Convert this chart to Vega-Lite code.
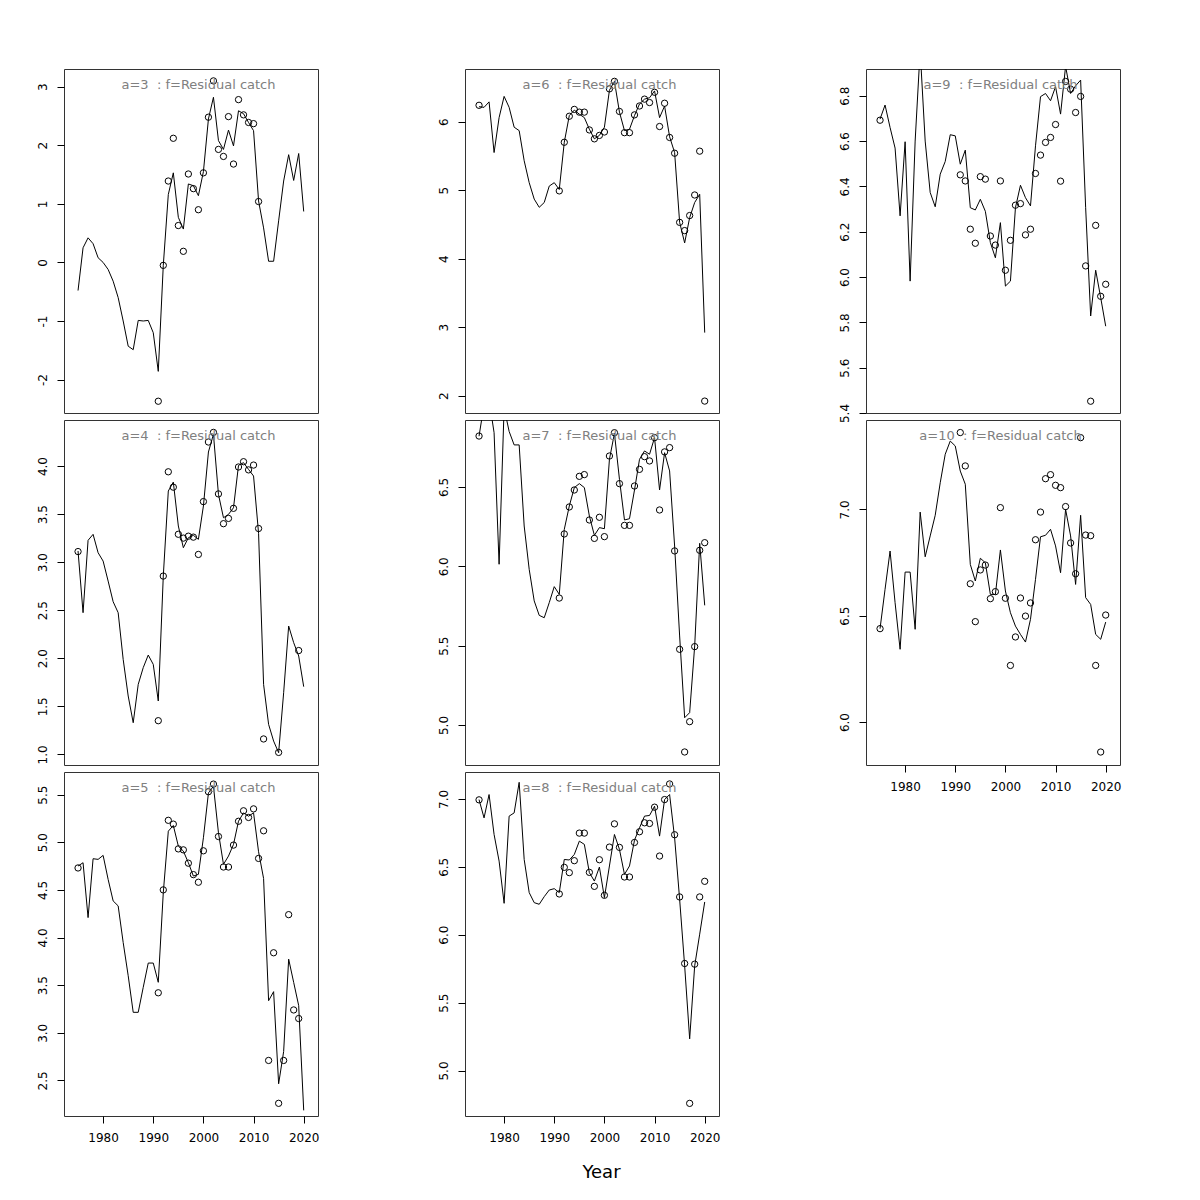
{
"$schema":"https://vega.github.io/schema/vega-lite/v6.json",
"padding":{"left":35,"top":68,"right":10,"bottom":10},
"background":"white",
"title":{"text":"Year","orient":"bottom","fontSize":18,"color":"black","offset":34,"dx":23,"baseline":"alphabetic","frame":"bounds","anchor":"middle"},
"datasets":{
"fit":[
{"a":3,"year":1975,"value":-0.48},{"a":3,"year":1976,"value":0.25},{"a":3,"year":1977,"value":0.42},{"a":3,"year":1978,"value":0.32},{"a":3,"year":1979,"value":0.08},{"a":3,"year":1980,"value":0.0},{"a":3,"year":1981,"value":-0.12},{"a":3,"year":1982,"value":-0.32},{"a":3,"year":1983,"value":-0.6},{"a":3,"year":1984,"value":-1.0},{"a":3,"year":1985,"value":-1.43},{"a":3,"year":1986,"value":-1.49},{"a":3,"year":1987,"value":-0.99},{"a":3,"year":1988,"value":-1.0},{"a":3,"year":1989,"value":-0.99},{"a":3,"year":1990,"value":-1.2},{"a":3,"year":1991,"value":-1.86},{"a":3,"year":1992,"value":-0.05},{"a":3,"year":1993,"value":1.16},{"a":3,"year":1994,"value":1.53},{"a":3,"year":1995,"value":0.77},{"a":3,"year":1996,"value":0.57},{"a":3,"year":1997,"value":1.34},{"a":3,"year":1998,"value":1.31},{"a":3,"year":1999,"value":1.14},{"a":3,"year":2000,"value":1.55},{"a":3,"year":2001,"value":2.45},{"a":3,"year":2002,"value":2.82},{"a":3,"year":2003,"value":2.08},{"a":3,"year":2004,"value":1.93},{"a":3,"year":2005,"value":2.26},{"a":3,"year":2006,"value":1.99},{"a":3,"year":2007,"value":2.59},{"a":3,"year":2008,"value":2.54},{"a":3,"year":2009,"value":2.39},{"a":3,"year":2010,"value":2.25},{"a":3,"year":2011,"value":1.05},{"a":3,"year":2012,"value":0.59},{"a":3,"year":2013,"value":0.02},{"a":3,"year":2014,"value":0.02},{"a":3,"year":2015,"value":0.71},{"a":3,"year":2016,"value":1.39},{"a":3,"year":2017,"value":1.84},{"a":3,"year":2018,"value":1.4},{"a":3,"year":2019,"value":1.86},{"a":3,"year":2020,"value":0.87},
{"a":4,"year":1975,"value":3.116},{"a":4,"year":1976,"value":2.474},{"a":4,"year":1977,"value":3.227},{"a":4,"year":1978,"value":3.289},{"a":4,"year":1979,"value":3.098},{"a":4,"year":1980,"value":3.011},{"a":4,"year":1981,"value":2.803},{"a":4,"year":1982,"value":2.588},{"a":4,"year":1983,"value":2.474},{"a":4,"year":1984,"value":1.988},{"a":4,"year":1985,"value":1.607},{"a":4,"year":1986,"value":1.329},{"a":4,"year":1987,"value":1.728},{"a":4,"year":1988,"value":1.902},{"a":4,"year":1989,"value":2.033},{"a":4,"year":1990,"value":1.936},{"a":4,"year":1991,"value":1.555},{"a":4,"year":1992,"value":2.855},{"a":4,"year":1993,"value":3.74},{"a":4,"year":1994,"value":3.833},{"a":4,"year":1995,"value":3.376},{"a":4,"year":1996,"value":3.15},{"a":4,"year":1997,"value":3.254},{"a":4,"year":1998,"value":3.279},{"a":4,"year":1999,"value":3.237},{"a":4,"year":2000,"value":3.584},{"a":4,"year":2001,"value":4.146},{"a":4,"year":2002,"value":4.33},{"a":4,"year":2003,"value":3.705},{"a":4,"year":2004,"value":3.462},{"a":4,"year":2005,"value":3.497},{"a":4,"year":2006,"value":3.566},{"a":4,"year":2007,"value":4.007},{"a":4,"year":2008,"value":4.035},{"a":4,"year":2009,"value":3.965},{"a":4,"year":2010,"value":3.896},{"a":4,"year":2011,"value":3.3},{"a":4,"year":2012,"value":1.728},{"a":4,"year":2013,"value":1.312},{"a":4,"year":2014,"value":1.138},{"a":4,"year":2015,"value":1.017},{"a":4,"year":2016,"value":1.641},{"a":4,"year":2017,"value":2.335},{"a":4,"year":2018,"value":2.162},{"a":4,"year":2019,"value":2.023},{"a":4,"year":2020,"value":1.704},
{"a":5,"year":1975,"value":4.75},{"a":5,"year":1976,"value":4.785},{"a":5,"year":1977,"value":4.209},{"a":5,"year":1978,"value":4.827},{"a":5,"year":1979,"value":4.82},{"a":5,"year":1980,"value":4.862},{"a":5,"year":1981,"value":4.61},{"a":5,"year":1982,"value":4.384},{"a":5,"year":1983,"value":4.332},{"a":5,"year":1984,"value":3.948},{"a":5,"year":1985,"value":3.599},{"a":5,"year":1986,"value":3.215},{"a":5,"year":1987,"value":3.215},{"a":5,"year":1988,"value":3.477},{"a":5,"year":1989,"value":3.732},{"a":5,"year":1990,"value":3.732},{"a":5,"year":1991,"value":3.53},{"a":5,"year":1992,"value":4.471},{"a":5,"year":1993,"value":5.116},{"a":5,"year":1994,"value":5.176},{"a":5,"year":1995,"value":4.959},{"a":5,"year":1996,"value":4.907},{"a":5,"year":1997,"value":4.785},{"a":5,"year":1998,"value":4.645},{"a":5,"year":1999,"value":4.663},{"a":5,"year":2000,"value":5.047},{"a":5,"year":2001,"value":5.517},{"a":5,"year":2002,"value":5.587},{"a":5,"year":2003,"value":5.099},{"a":5,"year":2004,"value":4.768},{"a":5,"year":2005,"value":4.855},{"a":5,"year":2006,"value":4.977},{"a":5,"year":2007,"value":5.221},{"a":5,"year":2008,"value":5.308},{"a":5,"year":2009,"value":5.273},{"a":5,"year":2010,"value":5.308},{"a":5,"year":2011,"value":4.9},{"a":5,"year":2012,"value":4.62},{"a":5,"year":2013,"value":3.337},{"a":5,"year":2014,"value":3.432},{"a":5,"year":2015,"value":2.465},{"a":5,"year":2016,"value":2.804},{"a":5,"year":2017,"value":3.773},{"a":5,"year":2018,"value":3.529},{"a":5,"year":2019,"value":3.285},{"a":5,"year":2020,"value":2.186},
{"a":6,"year":1975,"value":6.22},{"a":6,"year":1976,"value":6.21},{"a":6,"year":1977,"value":6.29},{"a":6,"year":1978,"value":5.55},{"a":6,"year":1979,"value":6.06},{"a":6,"year":1980,"value":6.37},{"a":6,"year":1981,"value":6.21},{"a":6,"year":1982,"value":5.92},{"a":6,"year":1983,"value":5.87},{"a":6,"year":1984,"value":5.43},{"a":6,"year":1985,"value":5.11},{"a":6,"year":1986,"value":4.87},{"a":6,"year":1987,"value":4.75},{"a":6,"year":1988,"value":4.82},{"a":6,"year":1989,"value":5.06},{"a":6,"year":1990,"value":5.11},{"a":6,"year":1991,"value":5.01},{"a":6,"year":1992,"value":5.7},{"a":6,"year":1993,"value":6.09},{"a":6,"year":1994,"value":6.17},{"a":6,"year":1995,"value":6.11},{"a":6,"year":1996,"value":6.06},{"a":6,"year":1997,"value":5.89},{"a":6,"year":1998,"value":5.75},{"a":6,"year":1999,"value":5.8},{"a":6,"year":2000,"value":5.92},{"a":6,"year":2001,"value":6.46},{"a":6,"year":2002,"value":6.59},{"a":6,"year":2003,"value":6.14},{"a":6,"year":2004,"value":5.87},{"a":6,"year":2005,"value":5.89},{"a":6,"year":2006,"value":6.09},{"a":6,"year":2007,"value":6.26},{"a":6,"year":2008,"value":6.33},{"a":6,"year":2009,"value":6.35},{"a":6,"year":2010,"value":6.45},{"a":6,"year":2011,"value":6.06},{"a":6,"year":2012,"value":6.23},{"a":6,"year":2013,"value":5.78},{"a":6,"year":2014,"value":5.55},{"a":6,"year":2015,"value":4.53},{"a":6,"year":2016,"value":4.23},{"a":6,"year":2017,"value":4.6},{"a":6,"year":2018,"value":4.82},{"a":6,"year":2019,"value":4.94},{"a":6,"year":2020,"value":2.92},
{"a":7,"year":1975,"value":6.82},{"a":7,"year":1976,"value":7.02},{"a":7,"year":1977,"value":7.05},{"a":7,"year":1978,"value":6.842},{"a":7,"year":1979,"value":6.013},{"a":7,"year":1980,"value":7.0},{"a":7,"year":1981,"value":6.85},{"a":7,"year":1982,"value":6.765},{"a":7,"year":1983,"value":6.765},{"a":7,"year":1984,"value":6.254},{"a":7,"year":1985,"value":5.981},{"a":7,"year":1986,"value":5.782},{"a":7,"year":1987,"value":5.691},{"a":7,"year":1988,"value":5.676},{"a":7,"year":1989,"value":5.771},{"a":7,"year":1990,"value":5.872},{"a":7,"year":1991,"value":5.823},{"a":7,"year":1992,"value":6.233},{"a":7,"year":1993,"value":6.38},{"a":7,"year":1994,"value":6.496},{"a":7,"year":1995,"value":6.521},{"a":7,"year":1996,"value":6.496},{"a":7,"year":1997,"value":6.317},{"a":7,"year":1998,"value":6.195},{"a":7,"year":1999,"value":6.244},{"a":7,"year":2000,"value":6.237},{"a":7,"year":2001,"value":6.674},{"a":7,"year":2002,"value":6.838},{"a":7,"year":2003,"value":6.548},{"a":7,"year":2004,"value":6.292},{"a":7,"year":2005,"value":6.3},{"a":7,"year":2006,"value":6.481},{"a":7,"year":2007,"value":6.674},{"a":7,"year":2008,"value":6.727},{"a":7,"year":2009,"value":6.706},{"a":7,"year":2010,"value":6.811},{"a":7,"year":2011,"value":6.481},{"a":7,"year":2012,"value":6.716},{"a":7,"year":2013,"value":6.601},{"a":7,"year":2014,"value":6.128},{"a":7,"year":2015,"value":5.561},{"a":7,"year":2016,"value":5.046},{"a":7,"year":2017,"value":5.078},{"a":7,"year":2018,"value":5.498},{"a":7,"year":2019,"value":6.145},{"a":7,"year":2020,"value":5.754},
{"a":8,"year":1975,"value":6.995},{"a":8,"year":1976,"value":6.86},{"a":8,"year":1977,"value":7.032},{"a":8,"year":1978,"value":6.738},{"a":8,"year":1979,"value":6.542},{"a":8,"year":1980,"value":6.231},{"a":8,"year":1981,"value":6.873},{"a":8,"year":1982,"value":6.897},{"a":8,"year":1983,"value":7.122},{"a":8,"year":1984,"value":6.554},{"a":8,"year":1985,"value":6.31},{"a":8,"year":1986,"value":6.236},{"a":8,"year":1987,"value":6.224},{"a":8,"year":1988,"value":6.28},{"a":8,"year":1989,"value":6.329},{"a":8,"year":1990,"value":6.339},{"a":8,"year":1991,"value":6.31},{"a":8,"year":1992,"value":6.554},{"a":8,"year":1993,"value":6.55},{"a":8,"year":1994,"value":6.591},{"a":8,"year":1995,"value":6.689},{"a":8,"year":1996,"value":6.665},{"a":8,"year":1997,"value":6.457},{"a":8,"year":1998,"value":6.395},{"a":8,"year":1999,"value":6.498},{"a":8,"year":2000,"value":6.273},{"a":8,"year":2001,"value":6.506},{"a":8,"year":2002,"value":6.738},{"a":8,"year":2003,"value":6.628},{"a":8,"year":2004,"value":6.444},{"a":8,"year":2005,"value":6.506},{"a":8,"year":2006,"value":6.696},{"a":8,"year":2007,"value":6.787},{"a":8,"year":2008,"value":6.873},{"a":8,"year":2009,"value":6.878},{"a":8,"year":2010,"value":6.946},{"a":8,"year":2011,"value":6.726},{"a":8,"year":2012,"value":6.995},{"a":8,"year":2013,"value":7.032},{"a":8,"year":2014,"value":6.714},{"a":8,"year":2015,"value":6.261},{"a":8,"year":2016,"value":5.771},{"a":8,"year":2017,"value":5.233},{"a":8,"year":2018,"value":5.771},{"a":8,"year":2019,"value":6.004},{"a":8,"year":2020,"value":6.241},
{"a":9,"year":1975,"value":6.697},{"a":9,"year":1976,"value":6.759},{"a":9,"year":1977,"value":6.66},{"a":9,"year":1978,"value":6.569},{"a":9,"year":1979,"value":6.27},{"a":9,"year":1980,"value":6.597},{"a":9,"year":1981,"value":5.982},{"a":9,"year":1982,"value":6.6},{"a":9,"year":1983,"value":7.0},{"a":9,"year":1984,"value":6.6},{"a":9,"year":1985,"value":6.373},{"a":9,"year":1986,"value":6.31},{"a":9,"year":1987,"value":6.454},{"a":9,"year":1988,"value":6.51},{"a":9,"year":1989,"value":6.628},{"a":9,"year":1990,"value":6.623},{"a":9,"year":1991,"value":6.498},{"a":9,"year":1992,"value":6.56},{"a":9,"year":1993,"value":6.306},{"a":9,"year":1994,"value":6.296},{"a":9,"year":1995,"value":6.343},{"a":9,"year":1996,"value":6.29},{"a":9,"year":1997,"value":6.152},{"a":9,"year":1998,"value":6.085},{"a":9,"year":1999,"value":6.24},{"a":9,"year":2000,"value":5.96},{"a":9,"year":2001,"value":5.982},{"a":9,"year":2002,"value":6.306},{"a":9,"year":2003,"value":6.405},{"a":9,"year":2004,"value":6.35},{"a":9,"year":2005,"value":6.314},{"a":9,"year":2006,"value":6.579},{"a":9,"year":2007,"value":6.796},{"a":9,"year":2008,"value":6.81},{"a":9,"year":2009,"value":6.778},{"a":9,"year":2010,"value":6.84},{"a":9,"year":2011,"value":6.719},{"a":9,"year":2012,"value":6.93},{"a":9,"year":2013,"value":6.81},{"a":9,"year":2014,"value":6.844},{"a":9,"year":2015,"value":6.869},{"a":9,"year":2016,"value":6.306},{"a":9,"year":2017,"value":5.828},{"a":9,"year":2018,"value":6.03},{"a":9,"year":2019,"value":5.909},{"a":9,"year":2020,"value":5.783},
{"a":10,"year":1975,"value":6.439},{"a":10,"year":1976,"value":6.624},{"a":10,"year":1977,"value":6.804},{"a":10,"year":1978,"value":6.561},{"a":10,"year":1979,"value":6.342},{"a":10,"year":1980,"value":6.705},{"a":10,"year":1981,"value":6.705},{"a":10,"year":1982,"value":6.436},{"a":10,"year":1983,"value":6.987},{"a":10,"year":1984,"value":6.777},{"a":10,"year":1985,"value":6.875},{"a":10,"year":1986,"value":6.972},{"a":10,"year":1987,"value":7.125},{"a":10,"year":1988,"value":7.259},{"a":10,"year":1989,"value":7.321},{"a":10,"year":1990,"value":7.298},{"a":10,"year":1991,"value":7.18},{"a":10,"year":1992,"value":7.118},{"a":10,"year":1993,"value":6.741},{"a":10,"year":1994,"value":6.663},{"a":10,"year":1995,"value":6.77},{"a":10,"year":1996,"value":6.749},{"a":10,"year":1997,"value":6.6},{"a":10,"year":1998,"value":6.6},{"a":10,"year":1999,"value":6.809},{"a":10,"year":2000,"value":6.616},{"a":10,"year":2001,"value":6.514},{"a":10,"year":2002,"value":6.451},{"a":10,"year":2003,"value":6.412},{"a":10,"year":2004,"value":6.376},{"a":10,"year":2005,"value":6.483},{"a":10,"year":2006,"value":6.671},{"a":10,"year":2007,"value":6.871},{"a":10,"year":2008,"value":6.878},{"a":10,"year":2009,"value":6.906},{"a":10,"year":2010,"value":6.828},{"a":10,"year":2011,"value":6.702},{"a":10,"year":2012,"value":7.0},{"a":10,"year":2013,"value":6.875},{"a":10,"year":2014,"value":6.647},{"a":10,"year":2015,"value":6.972},{"a":10,"year":2016,"value":6.585},{"a":10,"year":2017,"value":6.553},{"a":10,"year":2018,"value":6.412},{"a":10,"year":2019,"value":6.389},{"a":10,"year":2020,"value":6.47}
],
"obs":[
{"a":3,"year":1991,"value":-2.37},{"a":3,"year":1992,"value":-0.05},{"a":3,"year":1993,"value":1.39},{"a":3,"year":1994,"value":2.12},{"a":3,"year":1995,"value":0.63},{"a":3,"year":1996,"value":0.19},{"a":3,"year":1997,"value":1.51},{"a":3,"year":1998,"value":1.26},{"a":3,"year":1999,"value":0.9},{"a":3,"year":2000,"value":1.53},{"a":3,"year":2001,"value":2.48},{"a":3,"year":2002,"value":3.1},{"a":3,"year":2003,"value":1.93},{"a":3,"year":2004,"value":1.81},{"a":3,"year":2005,"value":2.49},{"a":3,"year":2006,"value":1.68},{"a":3,"year":2007,"value":2.78},{"a":3,"year":2008,"value":2.52},{"a":3,"year":2009,"value":2.39},{"a":3,"year":2010,"value":2.37},{"a":3,"year":2011,"value":1.04},
{"a":4,"year":1975,"value":3.11},{"a":4,"year":1991,"value":1.35},{"a":4,"year":1992,"value":2.855},{"a":4,"year":1993,"value":3.94},{"a":4,"year":1994,"value":3.78},{"a":4,"year":1995,"value":3.29},{"a":4,"year":1996,"value":3.25},{"a":4,"year":1997,"value":3.27},{"a":4,"year":1998,"value":3.26},{"a":4,"year":1999,"value":3.08},{"a":4,"year":2000,"value":3.63},{"a":4,"year":2001,"value":4.25},{"a":4,"year":2002,"value":4.35},{"a":4,"year":2003,"value":3.71},{"a":4,"year":2004,"value":3.4},{"a":4,"year":2005,"value":3.455},{"a":4,"year":2006,"value":3.56},{"a":4,"year":2007,"value":3.99},{"a":4,"year":2008,"value":4.045},{"a":4,"year":2009,"value":3.96},{"a":4,"year":2010,"value":4.01},{"a":4,"year":2011,"value":3.35},{"a":4,"year":2012,"value":1.16},{"a":4,"year":2015,"value":1.02},{"a":4,"year":2019,"value":2.08},
{"a":5,"year":1975,"value":4.73},{"a":5,"year":1991,"value":3.42},{"a":5,"year":1992,"value":4.5},{"a":5,"year":1993,"value":5.23},{"a":5,"year":1994,"value":5.19},{"a":5,"year":1995,"value":4.93},{"a":5,"year":1996,"value":4.92},{"a":5,"year":1997,"value":4.78},{"a":5,"year":1998,"value":4.66},{"a":5,"year":1999,"value":4.58},{"a":5,"year":2000,"value":4.91},{"a":5,"year":2001,"value":5.53},{"a":5,"year":2002,"value":5.61},{"a":5,"year":2003,"value":5.06},{"a":5,"year":2004,"value":4.74},{"a":5,"year":2005,"value":4.74},{"a":5,"year":2006,"value":4.97},{"a":5,"year":2007,"value":5.22},{"a":5,"year":2008,"value":5.33},{"a":5,"year":2009,"value":5.26},{"a":5,"year":2010,"value":5.35},{"a":5,"year":2011,"value":4.83},{"a":5,"year":2012,"value":5.12},{"a":5,"year":2013,"value":2.71},{"a":5,"year":2014,"value":3.84},{"a":5,"year":2015,"value":2.26},{"a":5,"year":2016,"value":2.71},{"a":5,"year":2017,"value":4.24},{"a":5,"year":2018,"value":3.24},{"a":5,"year":2019,"value":3.15},
{"a":6,"year":1975,"value":6.24},{"a":6,"year":1991,"value":4.99},{"a":6,"year":1992,"value":5.7},{"a":6,"year":1993,"value":6.08},{"a":6,"year":1994,"value":6.18},{"a":6,"year":1995,"value":6.14},{"a":6,"year":1996,"value":6.14},{"a":6,"year":1997,"value":5.88},{"a":6,"year":1998,"value":5.75},{"a":6,"year":1999,"value":5.8},{"a":6,"year":2000,"value":5.85},{"a":6,"year":2001,"value":6.48},{"a":6,"year":2002,"value":6.59},{"a":6,"year":2003,"value":6.15},{"a":6,"year":2004,"value":5.84},{"a":6,"year":2005,"value":5.84},{"a":6,"year":2006,"value":6.1},{"a":6,"year":2007,"value":6.23},{"a":6,"year":2008,"value":6.33},{"a":6,"year":2009,"value":6.28},{"a":6,"year":2010,"value":6.43},{"a":6,"year":2011,"value":5.93},{"a":6,"year":2012,"value":6.27},{"a":6,"year":2013,"value":5.77},{"a":6,"year":2014,"value":5.54},{"a":6,"year":2015,"value":4.53},{"a":6,"year":2016,"value":4.41},{"a":6,"year":2017,"value":4.63},{"a":6,"year":2018,"value":4.93},{"a":6,"year":2019,"value":5.57},{"a":6,"year":2020,"value":1.92},
{"a":7,"year":1975,"value":6.821},{"a":7,"year":1991,"value":5.8},{"a":7,"year":1992,"value":6.204},{"a":7,"year":1993,"value":6.374},{"a":7,"year":1994,"value":6.481},{"a":7,"year":1995,"value":6.567},{"a":7,"year":1996,"value":6.578},{"a":7,"year":1997,"value":6.292},{"a":7,"year":1998,"value":6.176},{"a":7,"year":1999,"value":6.309},{"a":7,"year":2000,"value":6.187},{"a":7,"year":2001,"value":6.695},{"a":7,"year":2002,"value":6.842},{"a":7,"year":2003,"value":6.521},{"a":7,"year":2004,"value":6.258},{"a":7,"year":2005,"value":6.258},{"a":7,"year":2006,"value":6.506},{"a":7,"year":2007,"value":6.611},{"a":7,"year":2008,"value":6.691},{"a":7,"year":2009,"value":6.664},{"a":7,"year":2010,"value":6.811},{"a":7,"year":2011,"value":6.355},{"a":7,"year":2012,"value":6.721},{"a":7,"year":2013,"value":6.748},{"a":7,"year":2014,"value":6.097},{"a":7,"year":2015,"value":5.477},{"a":7,"year":2016,"value":4.83},{"a":7,"year":2017,"value":5.021},{"a":7,"year":2018,"value":5.494},{"a":7,"year":2019,"value":6.101},{"a":7,"year":2020,"value":6.149},
{"a":8,"year":1975,"value":6.993},{"a":8,"year":1991,"value":6.3},{"a":8,"year":1992,"value":6.496},{"a":8,"year":1993,"value":6.457},{"a":8,"year":1994,"value":6.545},{"a":8,"year":1995,"value":6.748},{"a":8,"year":1996,"value":6.748},{"a":8,"year":1997,"value":6.459},{"a":8,"year":1998,"value":6.356},{"a":8,"year":1999,"value":6.552},{"a":8,"year":2000,"value":6.29},{"a":8,"year":2001,"value":6.645},{"a":8,"year":2002,"value":6.816},{"a":8,"year":2003,"value":6.643},{"a":8,"year":2004,"value":6.425},{"a":8,"year":2005,"value":6.425},{"a":8,"year":2006,"value":6.679},{"a":8,"year":2007,"value":6.758},{"a":8,"year":2008,"value":6.824},{"a":8,"year":2009,"value":6.819},{"a":8,"year":2010,"value":6.939},{"a":8,"year":2011,"value":6.579},{"a":8,"year":2012,"value":6.995},{"a":8,"year":2013,"value":7.11},{"a":8,"year":2014,"value":6.736},{"a":8,"year":2015,"value":6.278},{"a":8,"year":2016,"value":5.788},{"a":8,"year":2017,"value":4.758},{"a":8,"year":2018,"value":5.783},{"a":8,"year":2019,"value":6.278},{"a":8,"year":2020,"value":6.393},
{"a":9,"year":1975,"value":6.692},{"a":9,"year":1991,"value":6.451},{"a":9,"year":1992,"value":6.424},{"a":9,"year":1993,"value":6.211},{"a":9,"year":1994,"value":6.149},{"a":9,"year":1995,"value":6.443},{"a":9,"year":1996,"value":6.432},{"a":9,"year":1997,"value":6.181},{"a":9,"year":1998,"value":6.141},{"a":9,"year":1999,"value":6.424},{"a":9,"year":2000,"value":6.03},{"a":9,"year":2001,"value":6.162},{"a":9,"year":2002,"value":6.317},{"a":9,"year":2003,"value":6.324},{"a":9,"year":2004,"value":6.186},{"a":9,"year":2005,"value":6.211},{"a":9,"year":2006,"value":6.457},{"a":9,"year":2007,"value":6.538},{"a":9,"year":2008,"value":6.594},{"a":9,"year":2009,"value":6.616},{"a":9,"year":2010,"value":6.673},{"a":9,"year":2011,"value":6.423},{"a":9,"year":2012,"value":6.863},{"a":9,"year":2013,"value":6.829},{"a":9,"year":2014,"value":6.726},{"a":9,"year":2015,"value":6.797},{"a":9,"year":2016,"value":6.049},{"a":9,"year":2017,"value":5.452},{"a":9,"year":2018,"value":6.228},{"a":9,"year":2019,"value":5.915},{"a":9,"year":2020,"value":5.968},
{"a":10,"year":1975,"value":6.439},{"a":10,"year":1991,"value":7.361},{"a":10,"year":1992,"value":7.204},{"a":10,"year":1993,"value":6.65},{"a":10,"year":1994,"value":6.472},{"a":10,"year":1995,"value":6.715},{"a":10,"year":1996,"value":6.738},{"a":10,"year":1997,"value":6.58},{"a":10,"year":1998,"value":6.613},{"a":10,"year":1999,"value":7.008},{"a":10,"year":2000,"value":6.582},{"a":10,"year":2001,"value":6.266},{"a":10,"year":2002,"value":6.4},{"a":10,"year":2003,"value":6.583},{"a":10,"year":2004,"value":6.498},{"a":10,"year":2005,"value":6.56},{"a":10,"year":2006,"value":6.857},{"a":10,"year":2007,"value":6.987},{"a":10,"year":2008,"value":7.144},{"a":10,"year":2009,"value":7.163},{"a":10,"year":2010,"value":7.113},{"a":10,"year":2011,"value":7.102},{"a":10,"year":2012,"value":7.013},{"a":10,"year":2013,"value":6.842},{"a":10,"year":2014,"value":6.697},{"a":10,"year":2015,"value":7.337},{"a":10,"year":2016,"value":6.879},{"a":10,"year":2017,"value":6.876},{"a":10,"year":2018,"value":6.266},{"a":10,"year":2019,"value":5.859},{"a":10,"year":2020,"value":6.503}
]
},
"spacing":116,
"hconcat":[
{"spacing":7,"bounds":"flush","vconcat":[
{"width":254,"height":344,"title":{"text":"a=3\u00a0\u00a0:\u00a0f=Residual catch"},"layer":[
{"data":{"name":"fit"},"transform":[{"filter":"datum.a==3"}],"mark":{"type":"line","clip":true,"color":"black","strokeWidth":1},"encoding":{"x":{"field":"year","type":"quantitative","scale":{"domain":[1972.2,2022.85],"nice":false,"zero":false},"axis":null},"y":{"field":"value","type":"quantitative","scale":{"domain":[-2.571,3.303],"nice":false,"zero":false},"axis":{"title":null,"values":[-2,-1,0,1,2,3],"labelExpr":"replace(datum.label,'\u2212','-')"}}}},
{"data":{"name":"obs"},"transform":[{"filter":"datum.a==3"}],"mark":{"type":"point","clip":true,"color":"black","size":40,"strokeWidth":1,"filled":false,"opacity":1},"encoding":{"x":{"field":"year","type":"quantitative","scale":{"domain":[1972.2,2022.85],"nice":false,"zero":false},"axis":null},"y":{"field":"value","type":"quantitative","scale":{"domain":[-2.571,3.303],"nice":false,"zero":false},"axis":{"title":null,"values":[-2,-1,0,1,2,3],"labelExpr":"replace(datum.label,'\u2212','-')"}}}}
]},
{"width":254,"height":345,"title":{"text":"a=4\u00a0\u00a0:\u00a0f=Residual catch"},"layer":[
{"data":{"name":"fit"},"transform":[{"filter":"datum.a==4"}],"mark":{"type":"line","clip":true,"color":"black","strokeWidth":1},"encoding":{"x":{"field":"year","type":"quantitative","scale":{"domain":[1972.2,2022.85],"nice":false,"zero":false},"axis":null},"y":{"field":"value","type":"quantitative","scale":{"domain":[0.889,4.479],"nice":false,"zero":false},"axis":{"title":null,"values":[1,1.5,2,2.5,3,3.5,4],"format":".1f"}}}},
{"data":{"name":"obs"},"transform":[{"filter":"datum.a==4"}],"mark":{"type":"point","clip":true,"color":"black","size":40,"strokeWidth":1,"filled":false,"opacity":1},"encoding":{"x":{"field":"year","type":"quantitative","scale":{"domain":[1972.2,2022.85],"nice":false,"zero":false},"axis":null},"y":{"field":"value","type":"quantitative","scale":{"domain":[0.889,4.479],"nice":false,"zero":false},"axis":{"title":null,"values":[1,1.5,2,2.5,3,3.5,4],"format":".1f"}}}}
]},
{"width":254,"height":344,"title":{"text":"a=5\u00a0\u00a0:\u00a0f=Residual catch"},"layer":[
{"data":{"name":"fit"},"transform":[{"filter":"datum.a==5"}],"mark":{"type":"line","clip":true,"color":"black","strokeWidth":1},"encoding":{"x":{"field":"year","type":"quantitative","scale":{"domain":[1972.2,2022.85],"nice":false,"zero":false},"axis":{"title":null,"values":[1980,1990,2000,2010,2020],"format":"d","labelAngle":0}},"y":{"field":"value","type":"quantitative","scale":{"domain":[2.127,5.737],"nice":false,"zero":false},"axis":{"title":null,"values":[2.5,3,3.5,4,4.5,5,5.5],"format":".1f"}}}},
{"data":{"name":"obs"},"transform":[{"filter":"datum.a==5"}],"mark":{"type":"point","clip":true,"color":"black","size":40,"strokeWidth":1,"filled":false,"opacity":1},"encoding":{"x":{"field":"year","type":"quantitative","scale":{"domain":[1972.2,2022.85],"nice":false,"zero":false},"axis":{"title":null,"values":[1980,1990,2000,2010,2020],"format":"d","labelAngle":0}},"y":{"field":"value","type":"quantitative","scale":{"domain":[2.127,5.737],"nice":false,"zero":false},"axis":{"title":null,"values":[2.5,3,3.5,4,4.5,5,5.5],"format":".1f"}}}}
]}
]},
{"spacing":7,"bounds":"flush","vconcat":[
{"width":254,"height":344,"title":{"text":"a=6\u00a0\u00a0:\u00a0f=Residual catch"},"layer":[
{"data":{"name":"fit"},"transform":[{"filter":"datum.a==6"}],"mark":{"type":"line","clip":true,"color":"black","strokeWidth":1},"encoding":{"x":{"field":"year","type":"quantitative","scale":{"domain":[1972.2,2022.85],"nice":false,"zero":false},"axis":null},"y":{"field":"value","type":"quantitative","scale":{"domain":[1.746,6.77],"nice":false,"zero":false},"axis":{"title":null,"values":[2,3,4,5,6],"format":"d"}}}},
{"data":{"name":"obs"},"transform":[{"filter":"datum.a==6"}],"mark":{"type":"point","clip":true,"color":"black","size":40,"strokeWidth":1,"filled":false,"opacity":1},"encoding":{"x":{"field":"year","type":"quantitative","scale":{"domain":[1972.2,2022.85],"nice":false,"zero":false},"axis":null},"y":{"field":"value","type":"quantitative","scale":{"domain":[1.746,6.77],"nice":false,"zero":false},"axis":{"title":null,"values":[2,3,4,5,6],"format":"d"}}}}
]},
{"width":254,"height":345,"title":{"text":"a=7\u00a0\u00a0:\u00a0f=Residual catch"},"layer":[
{"data":{"name":"fit"},"transform":[{"filter":"datum.a==7"}],"mark":{"type":"line","clip":true,"color":"black","strokeWidth":1},"encoding":{"x":{"field":"year","type":"quantitative","scale":{"domain":[1972.2,2022.85],"nice":false,"zero":false},"axis":null},"y":{"field":"value","type":"quantitative","scale":{"domain":[4.748,6.922],"nice":false,"zero":false},"axis":{"title":null,"values":[5,5.5,6,6.5],"format":".1f"}}}},
{"data":{"name":"obs"},"transform":[{"filter":"datum.a==7"}],"mark":{"type":"point","clip":true,"color":"black","size":40,"strokeWidth":1,"filled":false,"opacity":1},"encoding":{"x":{"field":"year","type":"quantitative","scale":{"domain":[1972.2,2022.85],"nice":false,"zero":false},"axis":null},"y":{"field":"value","type":"quantitative","scale":{"domain":[4.748,6.922],"nice":false,"zero":false},"axis":{"title":null,"values":[5,5.5,6,6.5],"format":".1f"}}}}
]},
{"width":254,"height":344,"title":{"text":"a=8\u00a0\u00a0:\u00a0f=Residual catch"},"layer":[
{"data":{"name":"fit"},"transform":[{"filter":"datum.a==8"}],"mark":{"type":"line","clip":true,"color":"black","strokeWidth":1},"encoding":{"x":{"field":"year","type":"quantitative","scale":{"domain":[1972.2,2022.85],"nice":false,"zero":false},"axis":{"title":null,"values":[1980,1990,2000,2010,2020],"format":"d","labelAngle":0}},"y":{"field":"value","type":"quantitative","scale":{"domain":[4.665,7.198],"nice":false,"zero":false},"axis":{"title":null,"values":[5,5.5,6,6.5,7],"format":".1f"}}}},
{"data":{"name":"obs"},"transform":[{"filter":"datum.a==8"}],"mark":{"type":"point","clip":true,"color":"black","size":40,"strokeWidth":1,"filled":false,"opacity":1},"encoding":{"x":{"field":"year","type":"quantitative","scale":{"domain":[1972.2,2022.85],"nice":false,"zero":false},"axis":{"title":null,"values":[1980,1990,2000,2010,2020],"format":"d","labelAngle":0}},"y":{"field":"value","type":"quantitative","scale":{"domain":[4.665,7.198],"nice":false,"zero":false},"axis":{"title":null,"values":[5,5.5,6,6.5,7],"format":".1f"}}}}
]}
]},
{"spacing":7,"bounds":"flush","vconcat":[
{"width":254,"height":344,"title":{"text":"a=9\u00a0\u00a0:\u00a0f=Residual catch"},"layer":[
{"data":{"name":"fit"},"transform":[{"filter":"datum.a==9"}],"mark":{"type":"line","clip":true,"color":"black","strokeWidth":1},"encoding":{"x":{"field":"year","type":"quantitative","scale":{"domain":[1972.2,2022.85],"nice":false,"zero":false},"axis":null},"y":{"field":"value","type":"quantitative","scale":{"domain":[5.4,6.918],"nice":false,"zero":false},"axis":{"title":null,"values":[5.4,5.6,5.8,6.0,6.2,6.4,6.6,6.8],"format":".1f"}}}},
{"data":{"name":"obs"},"transform":[{"filter":"datum.a==9"}],"mark":{"type":"point","clip":true,"color":"black","size":40,"strokeWidth":1,"filled":false,"opacity":1},"encoding":{"x":{"field":"year","type":"quantitative","scale":{"domain":[1972.2,2022.85],"nice":false,"zero":false},"axis":null},"y":{"field":"value","type":"quantitative","scale":{"domain":[5.4,6.918],"nice":false,"zero":false},"axis":{"title":null,"values":[5.4,5.6,5.8,6.0,6.2,6.4,6.6,6.8],"format":".1f"}}}}
]},
{"width":254,"height":345,"title":{"text":"a=10\u00a0\u00a0:\u00a0f=Residual catch"},"layer":[
{"data":{"name":"fit"},"transform":[{"filter":"datum.a==10"}],"mark":{"type":"line","clip":true,"color":"black","strokeWidth":1},"encoding":{"x":{"field":"year","type":"quantitative","scale":{"domain":[1972.2,2022.85],"nice":false,"zero":false},"axis":{"title":null,"values":[1980,1990,2000,2010,2020],"format":"d","labelAngle":0}},"y":{"field":"value","type":"quantitative","scale":{"domain":[5.798,7.42],"nice":false,"zero":false},"axis":{"title":null,"values":[6,6.5,7],"format":".1f"}}}},
{"data":{"name":"obs"},"transform":[{"filter":"datum.a==10"}],"mark":{"type":"point","clip":true,"color":"black","size":40,"strokeWidth":1,"filled":false,"opacity":1},"encoding":{"x":{"field":"year","type":"quantitative","scale":{"domain":[1972.2,2022.85],"nice":false,"zero":false},"axis":{"title":null,"values":[1980,1990,2000,2010,2020],"format":"d","labelAngle":0}},"y":{"field":"value","type":"quantitative","scale":{"domain":[5.798,7.42],"nice":false,"zero":false},"axis":{"title":null,"values":[6,6.5,7],"format":".1f"}}}}
]}
]}
],
"config":{
"font":"DejaVu Sans",
"view":{"stroke":"#333333","strokeWidth":1},
"axis":{"grid":false,"domain":false,"tickColor":"black","tickSize":7,"labelColor":"black","labelFont":"DejaVu Sans","labelFontSize":12,"labelOverlap":false,"labelFlush":false},
"axisY":{"labelAngle":-90,"labelAlign":"center","labelBaseline":"alphabetic","labelPadding":11},
"axisX":{"labelPadding":9},
"title":{"font":"DejaVu Sans","fontSize":13,"fontWeight":"normal","color":"#808080","offset":-23,"dx":7.5,"frame":"group","anchor":"middle","baseline":"alphabetic"}
}
}
